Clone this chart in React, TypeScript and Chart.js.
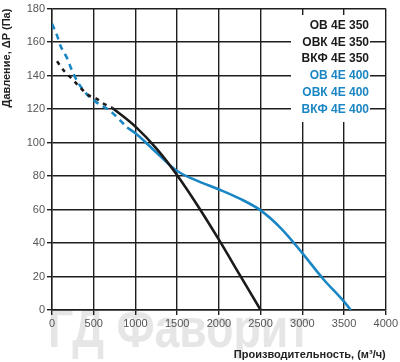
import React, { useEffect, useRef } from "react";
import { Chart, registerables } from "chart.js";

Chart.register(...registerables);

// Series OB/OBK/VKF 4E 350 (black)
const blackDashX = [60, 150, 240, 335, 430, 540, 610, 720];
const blackDashY = [148.5, 142.5, 138, 133, 128.5, 126, 123.5, 120.8];
const blackSolidX = [720, 1000, 1250, 1500, 1750, 2000, 2250, 2500];
const blackSolidY = [120.8, 109.5, 96.5, 80.5, 62, 42, 21, 0];

// Series OB/OBK/VKF 4E 400 (blue)
const blueDashX = [0, 60, 100, 175, 240, 310, 415, 535, 695, 900];
const blueDashY = [171, 164, 158, 151, 143, 136, 129, 124, 119, 109];
const blueSolidX = [900, 1000, 1200, 1500, 1750, 2000, 2250, 2500, 2750, 3000, 3250, 3500, 3580];
const blueSolidY = [109, 105.5, 96.5, 83, 77, 72, 66.5, 59.5, 48.5, 34, 18.5, 5, 0];

const xTicks = [0, 500, 1000, 1500, 2000, 2500, 3000, 3500, 4000];
const yTicks = [0, 20, 40, 60, 80, 100, 120, 140, 160, 180];

const legendLabels = ["ОВ 4Е 350", "ОВК 4Е 350", "ВКФ 4Е 350", "ОВ 4Е 400", "ОВК 4Е 400", "ВКФ 4Е 400"];
const legendColors = ["#1b1b1b", "#1b1b1b", "#1b1b1b", "#1a86c4", "#1a86c4", "#1a86c4"];

const xTitle = "Производительность, (м³/ч)";
const yTitle = "Давление, ΔP (Па)";
const watermark = "ГД Фаворит";

const BLACK = "#1b1b1b";
const BLUE = "#1a86c4";

const pts = (xs: number[], ys: number[]) => xs.map((x, i) => ({ x, y: ys[i] }));

export default function App() {
  const ref = useRef<HTMLCanvasElement | null>(null);
  useEffect(() => {
    if (!ref.current) return;
    const watermarkPlugin = {
      id: "wm",
      beforeDraw(chart: any) {
        const ctx = chart.ctx;
        ctx.save();
        ctx.fillStyle = "#e6e6e6";
        ctx.font = "bold 56px 'Liberation Sans', Arial, sans-serif";
        ctx.textBaseline = "alphabetic";
        ctx.textAlign = "left";
        ctx.fillText(watermark, 48, 347, 262);
        ctx.restore();
      },
    };
    const legendPlugin = {
      id: "customLegend",
      afterDraw(chart: any) {
        const ctx = chart.ctx;
        ctx.save();
        ctx.fillStyle = "#ffffff";
        ctx.fillRect(291, 15, 79, 107);
        ctx.font = "bold 12px 'Liberation Sans', Arial, sans-serif";
        ctx.textAlign = "right";
        ctx.textBaseline = "middle";
        legendLabels.forEach((t, i) => {
          ctx.fillStyle = legendColors[i];
          ctx.fillText(t, 369, 25.5 + i * 16.8);
        });
        ctx.restore();
      },
    };
    const font = { family: "'Liberation Sans', Arial, sans-serif", size: 11 };
    const chart = new Chart(ref.current, {
      type: "line",
      data: {
        datasets: [
          {
            data: pts(blackDashX, blackDashY),
            borderColor: BLACK,
            borderWidth: 2.6,
            borderDash: [4, 5],
            pointRadius: 0,
            cubicInterpolationMode: "monotone",
          },
          {
            data: pts(blackSolidX, blackSolidY),
            borderColor: BLACK,
            borderWidth: 2.6,
            pointRadius: 0,
            cubicInterpolationMode: "monotone",
          },
          {
            data: pts(blueDashX, blueDashY),
            borderColor: BLUE,
            borderWidth: 2.6,
            borderDash: [6, 5],
            pointRadius: 0,
            cubicInterpolationMode: "monotone",
          },
          {
            data: pts(blueSolidX, blueSolidY),
            borderColor: BLUE,
            borderWidth: 2.6,
            pointRadius: 0,
            cubicInterpolationMode: "monotone",
          },
        ],
      },
      options: {
        animation: false,
        responsive: false,
        maintainAspectRatio: false,
        layout: { padding: { left: 0, right: 14, top: 6, bottom: 0 } },
        plugins: { legend: { display: false }, tooltip: { enabled: false } },
        scales: {
          x: {
            type: "linear",
            min: 0,
            max: 4000,
            afterBuildTicks: (s: any) => {
              s.ticks = xTicks.map((v) => ({ value: v }));
            },
            afterFit: (s: any) => {
              s.height = 52;
            },
            grid: { color: "#1e1e1e", lineWidth: 1.4, tickLength: 5, drawTicks: true },
            border: { color: "#1e1e1e", width: 1.4 },
            ticks: {
              color: "#555",
              font,
              padding: 2,
              maxRotation: 0,
              callback: (v: any) => String(v),
            },
            title: {
              display: true,
              text: xTitle,
              align: "end",
              color: "#222",
              font: { ...font, weight: "bold" },
              padding: { top: 8, bottom: 0 },
            },
          },
          y: {
            type: "linear",
            min: 0,
            max: 180,
            afterBuildTicks: (s: any) => {
              s.ticks = yTicks.map((v) => ({ value: v }));
            },
            afterFit: (s: any) => {
              s.width = 52;
            },
            grid: { color: "#1e1e1e", lineWidth: 1.4, tickLength: 5, drawTicks: true },
            border: { color: "#1e1e1e", width: 1.4 },
            ticks: {
              color: "#555",
              font,
              padding: 2,
              callback: (v: any) => String(v),
            },
            title: {
              display: true,
              text: yTitle,
              align: "end",
              color: "#222",
              font: { ...font, weight: "bold" },
              padding: { top: 0, bottom: 0 },
            },
          },
        },
      } as any,
      plugins: [watermarkPlugin, legendPlugin],
    });
    return () => chart.destroy();
  }, []);
  return (
    <div style={{ position: "fixed", left: 0, top: 0, width: 400, height: 362, background: "#fff" }}>
      <canvas ref={ref} width={400} height={362} style={{ width: 400, height: 362 }} />
    </div>
  );
}
